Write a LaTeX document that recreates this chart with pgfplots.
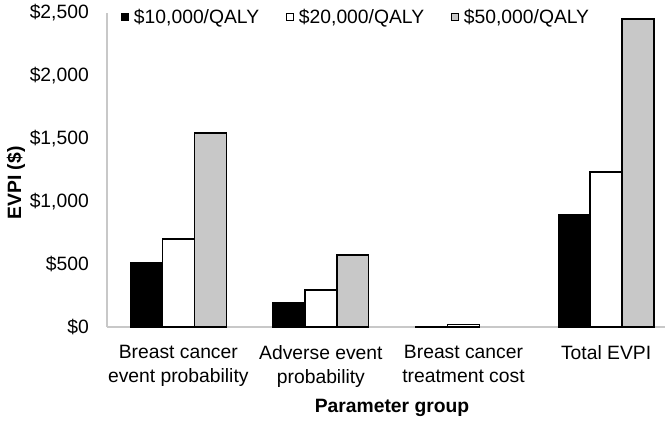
\documentclass[border=0pt]{standalone}
\usepackage{pgfplots}
\pgfplotsset{compat=1.18}
\usepackage{fontspec}
\setmainfont{Liberation Sans}
\definecolor{bargray}{RGB}{200,200,200}
\definecolor{axgray}{RGB}{200,200,200}
\newcommand{\f}{\fontsize{19.3bp}{24bp}\selectfont}
\begin{document}
\begin{tikzpicture}
\begin{axis}[
  scale only axis, width=558bp, height=314bp,
  ybar=0pt, bar width=0.224,
  xmin=-0.5, xmax=3.413, ymin=0, ymax=2500,
  axis x line=bottom, axis y line=left,
  axis line style={-, axgray, line width=1.2bp},
  major tick length=0pt,
  xtick={0,1,2,3},
  xticklabels={{Breast cancer\\event probability},{Adverse event\\probability},{Breast cancer\\treatment cost},{Total EVPI}},
  x tick label style={align=center, anchor=north, inner sep=0pt, yshift=-18bp, font=\f},
  ytick={0,500,1000,1500,2000,2500},
  yticklabels={\$0,\$500,{\$1,000},{\$1,500},{\$2,000},{\$2,500}},
  y tick label style={anchor=east, inner sep=0pt, xshift=-18bp, font=\f},
  ylabel={EVPI (\$)},
  every axis y label/.style={at={(axis description cs:0,0.459)}, xshift=-91bp, rotate=90, anchor=center, font=\f\bfseries},
  xlabel={Parameter group},
  every axis x label/.style={at={(axis description cs:0.5,0)}, xshift=6bp, yshift=-85bp, anchor=base, font=\f\bfseries},
  legend style={draw=none, fill=none, at={(axis description cs:0,1)}, anchor=west, xshift=14bp, yshift=-4bp, font=\f, inner sep=0pt,
    /tikz/every odd column/.append style={column sep=3bp},
    /tikz/every even column/.append style={column sep=25bp}},
  legend columns=-1,
  legend image code/.code={\draw[#1, line width=0.8bp] (0bp,-3.5bp) rectangle (7bp,3.5bp);},
]
\addplot[fill=black, draw=black, line width=1.3bp] coordinates {(0,510) (1,193) (2,3) (3,892)};
\addplot[fill=white, draw=black, line width=1.3bp] coordinates {(0,700) (1,295) (2,18) (3,1234)};
\addplot[fill=bargray, draw=black, line width=1.3bp] coordinates {(0,1545) (1,573) (3,2452)};
\legend{{\$10,000/QALY},{\$20,000/QALY},{\$50,000/QALY}}
\end{axis}
\pgfresetboundingbox
\useasboundingbox ([shift={(-107bp,-94bp)}]current axis.south west) rectangle ([shift={(558bp,327bp)}]current axis.south west);
\end{tikzpicture}
\end{document}
